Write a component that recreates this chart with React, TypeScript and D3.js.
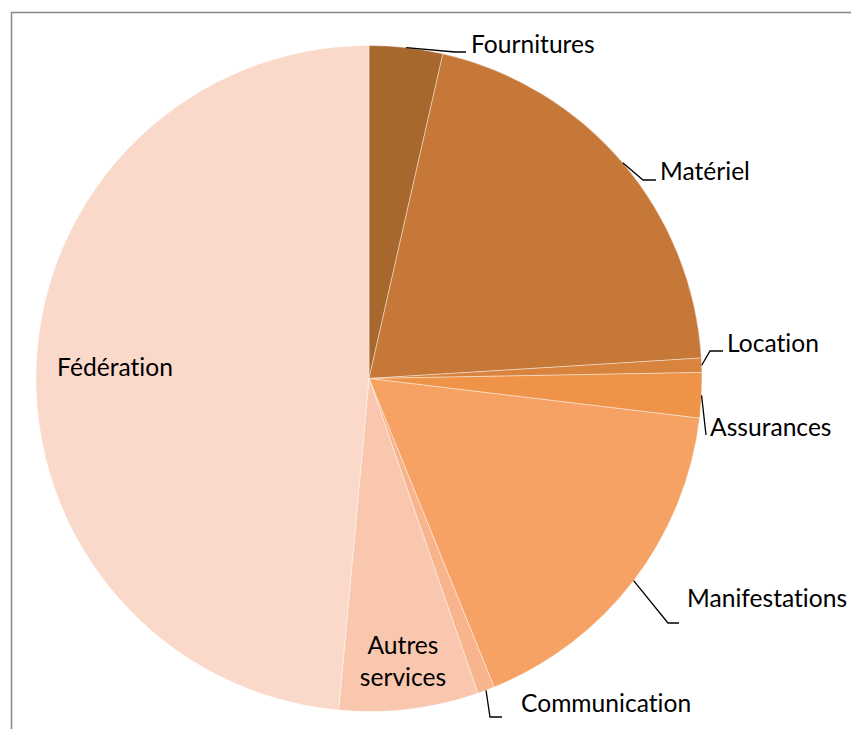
import React, { useEffect, useRef } from 'react';
import * as d3 from 'd3';

// budget shares, read clockwise from 12 o'clock
const categories = [
  'Fournitures',
  'Matériel',
  'Location',
  'Assurances',
  'Manifestations',
  'Communication',
  'Autres services',
  'Fédération',
];
const values = [3.56, 20.46, 0.69, 2.19, 16.97, 0.83, 6.75, 48.55];
const colors = [
  '#a8672d',
  '#c57837',
  '#d9843e',
  '#ee9347',
  '#f6a265',
  '#f8b48c',
  '#f9c7ae',
  '#fad8ca',
];

// where Excel put the labels (outside ones get a leader line)
const labelPlacement: Record<string, { elbow?: [number, number]; endX?: number; tx: number; ty: number; inside?: boolean; lines?: string[] }> = {
  Fournitures: { elbow: [455, 52], endX: 466, tx: 471, ty: 53 },
  'Matériel': { elbow: [643, 180], endX: 656, tx: 660, ty: 180 },
  Location: { elbow: [710, 351], endX: 723, tx: 727, ty: 352 },
  Assurances: { elbow: [706, 435], endX: 706, tx: 710, ty: 436 },
  Manifestations: { elbow: [668, 623], endX: 679, tx: 687, ty: 607 },
  Communication: { elbow: [490, 717], endX: 502, tx: 521, ty: 712 },
  'Autres services': { inside: true, tx: 403, ty: 654, lines: ['Autres', 'services'] },
  'Fédération': { inside: true, tx: 115, ty: 376, lines: ['Fédération'] },
};

const width = 851;
const height = 729;
const cx = 369;
const cy = 378.5;
const radius = 333;

const PieChart = () => {
  const ref = useRef<SVGSVGElement>(null);

  useEffect(() => {
    const svg = d3.select(ref.current);
    svg.selectAll('*').remove();

    const data = categories.map((c, i) => ({ name: c, value: values[i], color: colors[i] }));

    const pie = d3.pie<any>().value((d) => d.value).sort(null);
    const arcs = pie(data);
    const arc = d3.arc<any>().innerRadius(0).outerRadius(radius);

    svg
      .append('rect')
      .attr('x', 11.5)
      .attr('y', 12.5)
      .attr('width', 1000)
      .attr('height', 1000)
      .attr('fill', '#fff')
      .attr('stroke', '#898989')
      .attr('stroke-width', 1.5);

    const g = svg.append('g').attr('transform', `translate(${cx},${cy})`);
    g.selectAll('path.slice')
      .data(arcs)
      .join('path')
      .attr('class', 'slice')
      .attr('d', arc)
      .attr('fill', (d) => d.data.color)
      .attr('stroke', '#fff')
      .attr('stroke-width', 0.4);

    const labels = svg
      .append('g')
      .attr('font-family', 'Lato, Calibri, sans-serif')
      .attr('font-size', 24.6)
      .attr('fill', '#000')
      .style('font-variant-ligatures', 'none');

    arcs.forEach((a) => {
      const p = labelPlacement[a.data.name];
      if (!p) return;
      if (p.inside) {
        p.lines!.forEach((line, k) => {
          labels
            .append('text')
            .attr('x', p.tx)
            .attr('y', p.ty + k * 32)
            .attr('text-anchor', 'middle')
            .text(line);
        });
        return;
      }
      const mid = (a.startAngle + a.endAngle) / 2;
      const sx = cx + radius * Math.sin(mid);
      const sy = cy - radius * Math.cos(mid);
      const pts: [number, number][] = [[sx, sy], p.elbow!, [p.endX!, p.elbow![1]]];
      labels
        .append('path')
        .attr('d', d3.line()(pts))
        .attr('fill', 'none')
        .attr('stroke', '#000')
        .attr('stroke-width', 1.3);
      labels.append('text').attr('x', p.tx).attr('y', p.ty).text(a.data.name);
    });
  }, []);

  return (
    <svg
      ref={ref}
      width={width}
      height={height}
      style={{ position: 'absolute', left: 0, top: 0, display: 'block', background: '#fff' }}
    />
  );
};

export default function App() {
  return <PieChart />;
}
